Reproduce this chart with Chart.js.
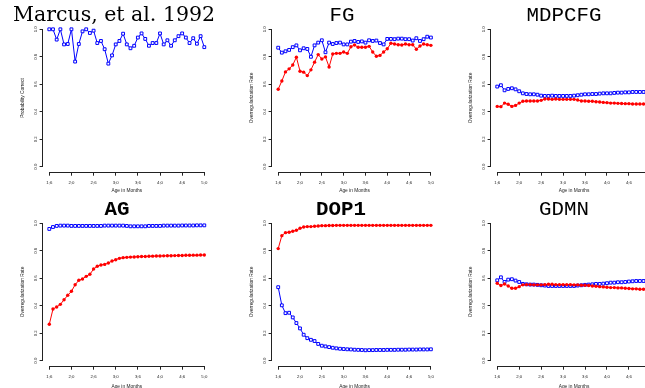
<!DOCTYPE html>
<html>
<head>
<meta charset="utf-8">
<script src="https://cdn.jsdelivr.net/npm/chart.js@4.4.1/dist/chart.umd.min.js"></script>
<style>
  html, body { margin: 0; padding: 0; background: #fff; overflow: hidden; }
  body { width: 645px; height: 388px; position: relative; }
  canvas { position: absolute; }
</style>
</head>
<body>
<canvas id="marcus"></canvas>
<canvas id="fg"></canvas>
<canvas id="mdpcfg"></canvas>
<canvas id="ag"></canvas>
<canvas id="dop1"></canvas>
<canvas id="gdmn"></canvas>
<script>
// ages in months, 1;6 .. 5;0
const ages = [18, 19, 20, 21, 22, 23, 24, 25, 26, 27, 28, 29, 30, 31, 32, 33, 34, 35, 36, 37, 38,
  39, 40, 41, 42, 43, 44, 45, 46, 47, 48, 49, 50, 51, 52, 53, 54, 55, 56, 57, 58, 59, 60]
const xTickValues = [18, 24, 30, 36, 42, 48, 54, 60]
const xTickLabels = ['1;6', '2;0', '2;6', '3;0', '3;6', '4;0', '4;6', '5;0']
const yTickValues = [0, 0.2, 0.4, 0.6, 0.8, 1.0]
const yTickLabels = ['0.0', '0.2', '0.4', '0.6', '0.8', '1.0']

const marcusCorrect = [1.0, 1.0, 0.925, 1.0, 0.89, 0.893, 1.0, 0.765, 0.893, 0.985, 1.0, 0.973, 0.99, 0.90,
  0.915, 0.855, 0.75, 0.81, 0.89, 0.915, 0.968, 0.89, 0.862, 0.88, 0.94, 0.97, 0.93, 0.88, 0.90, 0.90,
  0.97, 0.89, 0.92, 0.88, 0.92, 0.95, 0.97, 0.94, 0.90, 0.935, 0.895, 0.95, 0.87]

const fgBlue = [0.866, 0.83, 0.84, 0.85, 0.87, 0.883, 0.847, 0.862, 0.857, 0.80, 0.883, 0.903, 0.92, 0.833,
  0.903, 0.893, 0.90, 0.903, 0.89, 0.89, 0.91, 0.915, 0.908, 0.912, 0.903, 0.92, 0.915, 0.918, 0.90, 0.89,
  0.93, 0.93, 0.928, 0.932, 0.932, 0.928, 0.928, 0.918, 0.935, 0.915, 0.928, 0.946, 0.94]
const fgRed = [0.564, 0.624, 0.69, 0.712, 0.74, 0.797, 0.695, 0.688, 0.663, 0.705, 0.761, 0.816, 0.784, 0.799,
  0.726, 0.82, 0.825, 0.825, 0.835, 0.825, 0.873, 0.886, 0.869, 0.869, 0.869, 0.876, 0.835, 0.804, 0.81, 0.835,
  0.858, 0.898, 0.893, 0.888, 0.886, 0.893, 0.888, 0.888, 0.855, 0.878, 0.893, 0.888, 0.883]

const mdpBlue = [0.583, 0.593, 0.556, 0.566, 0.571, 0.563, 0.549, 0.534, 0.529, 0.527, 0.527, 0.524, 0.517, 0.515,
  0.515, 0.517, 0.515, 0.515, 0.515, 0.515, 0.515, 0.517, 0.52, 0.524, 0.527, 0.527, 0.529, 0.529, 0.532, 0.534,
  0.534, 0.534, 0.537, 0.539, 0.539, 0.541, 0.541, 0.544, 0.544, 0.544, 0.544, 0.544, 0.544]
const mdpRed = [0.439, 0.437, 0.463, 0.454, 0.439, 0.446, 0.463, 0.476, 0.478, 0.478, 0.478, 0.478, 0.483, 0.493,
  0.493, 0.49, 0.493, 0.49, 0.49, 0.49, 0.49, 0.49, 0.485, 0.478, 0.478, 0.476, 0.476, 0.473, 0.471, 0.468,
  0.466, 0.463, 0.463, 0.461, 0.46, 0.459, 0.459, 0.456, 0.456, 0.456, 0.456, 0.456, 0.456]

const agBlue = [0.959, 0.973, 0.981, 0.983, 0.983, 0.983, 0.981, 0.981, 0.981, 0.981, 0.981, 0.981, 0.981, 0.981,
  0.981, 0.983, 0.983, 0.983, 0.983, 0.983, 0.983, 0.981, 0.978, 0.978, 0.978, 0.978, 0.978, 0.981, 0.981, 0.981,
  0.981, 0.983, 0.983, 0.983, 0.983, 0.983, 0.984, 0.984, 0.984, 0.984, 0.985, 0.985, 0.985]
const agRed = [0.265, 0.376, 0.391, 0.41, 0.444, 0.476, 0.505, 0.553, 0.585, 0.595, 0.614, 0.629, 0.667, 0.687,
  0.697, 0.701, 0.711, 0.726, 0.735, 0.745, 0.750, 0.752, 0.754, 0.755, 0.757, 0.758, 0.758, 0.760, 0.761, 0.762,
  0.762, 0.763, 0.764, 0.764, 0.765, 0.766, 0.766, 0.767, 0.767, 0.768, 0.768, 0.769, 0.769]

const dopBlue = [0.535, 0.403, 0.346, 0.349, 0.315, 0.274, 0.235, 0.189, 0.164, 0.152, 0.143, 0.122, 0.109, 0.104,
  0.099, 0.094, 0.09, 0.087, 0.085, 0.083, 0.082, 0.08, 0.079, 0.078, 0.076, 0.077, 0.077, 0.078, 0.078, 0.078,
  0.079, 0.079, 0.079, 0.08, 0.08, 0.08, 0.081, 0.081, 0.081, 0.082, 0.082, 0.082, 0.083]
const dopRed = [0.816, 0.91, 0.932, 0.935, 0.942, 0.949, 0.964, 0.973, 0.976, 0.976, 0.978, 0.98, 0.983, 0.983,
  0.984, 0.984, 0.985, 0.985, 0.985, 0.985, 0.985, 0.985, 0.985, 0.985, 0.985, 0.985, 0.985, 0.985, 0.985, 0.985,
  0.985, 0.985, 0.985, 0.985, 0.985, 0.985, 0.985, 0.985, 0.985, 0.985, 0.985, 0.985, 0.985]

const gdBlue = [0.585, 0.607, 0.573, 0.59, 0.593, 0.583, 0.573, 0.559, 0.556, 0.554, 0.554, 0.552, 0.549, 0.547,
  0.544, 0.544, 0.544, 0.544, 0.544, 0.544, 0.544, 0.544, 0.547, 0.549, 0.552, 0.554, 0.556, 0.559, 0.559, 0.561,
  0.564, 0.568, 0.568, 0.571, 0.571, 0.573, 0.576, 0.578, 0.58, 0.58, 0.58, 0.58, 0.58]
const gdRed = [0.564, 0.547, 0.558, 0.544, 0.527, 0.527, 0.539, 0.552, 0.554, 0.554, 0.552, 0.552, 0.552, 0.554,
  0.556, 0.556, 0.554, 0.554, 0.554, 0.554, 0.554, 0.552, 0.552, 0.549, 0.549, 0.547, 0.544, 0.542, 0.539, 0.537,
  0.535, 0.532, 0.532, 0.53, 0.53, 0.527, 0.525, 0.523, 0.523, 0.52, 0.52, 0.52, 0.52]

const BLUE = '#0000ff'
const RED = '#ff0000'
const INK = '#222'
const PLOT_W = 167.4
const PLOT_H = 148.4
const SANS = '"Liberation Sans", Arial, sans-serif'

const pts = vals => ages.map((a, i) => ({ x: a, y: vals[i] }))

const blueSet = vals => ({
  data: pts(vals),
  borderColor: BLUE,
  borderWidth: 1,
  pointStyle: 'rect',
  pointRadius: 2.0,
  pointBorderWidth: 1,
  pointBorderColor: BLUE,
  pointBackgroundColor: '#fff',
  tension: 0
})
const redSet = vals => ({
  data: pts(vals),
  borderColor: RED,
  borderWidth: 1,
  pointStyle: 'circle',
  pointRadius: 1.7,
  pointBorderWidth: 0,
  pointBackgroundColor: RED,
  tension: 0
})

function panel(id, box, plotLeft, plotTop, title, titleX, yLabel, datasets) {
  const cv = document.getElementById(id)
  cv.width = box.w
  cv.height = box.h
  cv.style.left = box.left + 'px'
  cv.style.top = box.top + 'px'
  cv.style.width = box.w + 'px'
  cv.style.height = box.h + 'px'

  const yTitleSize = 4.8
  const yW = plotLeft - box.left
  const xH = box.h - (plotTop - box.top) - PLOT_H

  // R-style axes: line only from first to last tick
  const rAxes = {
    id: 'rAxes',
    afterDraw(chart) {
      const { ctx, chartArea, scales: { x, y } } = chart
      ctx.save()
      ctx.strokeStyle = INK
      ctx.lineWidth = 1
      ctx.beginPath()
      const ax = Math.round(chartArea.left) - 0.5
      ctx.moveTo(ax, y.getPixelForValue(yTickValues[0]))
      ctx.lineTo(ax, y.getPixelForValue(yTickValues[yTickValues.length - 1]))
      const ay = Math.round(chartArea.bottom) + 0.5
      ctx.moveTo(x.getPixelForValue(xTickValues[0]), ay)
      ctx.lineTo(x.getPixelForValue(xTickValues[xTickValues.length - 1]), ay)
      ctx.stroke()
      ctx.restore()
    }
  }
  const titlePlug = {
    id: 'panelTitle',
    afterDraw(chart) {
      const ctx = chart.ctx
      ctx.save()
      ctx.font = title.font
      ctx.fillStyle = '#000'
      ctx.textAlign = 'center'
      ctx.textBaseline = 'alphabetic'
      ctx.fillText(title.text, titleX - box.left, title.baseline)
      ctx.restore()
    }
  }

  return new Chart(cv, {
    type: 'line',
    data: { datasets },
    plugins: [rAxes, titlePlug],
    options: {
      responsive: false,
      animation: false,
      events: [],
      layout: {
        padding: { left: 0, top: plotTop - box.top, right: box.left + box.w - (plotLeft + PLOT_W), bottom: 0 }
      },
      plugins: { legend: { display: false }, tooltip: { enabled: false }, title: { display: false } },
      scales: {
        x: {
          type: 'linear',
          min: 16.32,
          max: 61.68,
          afterBuildTicks: s => { s.ticks = xTickValues.map(v => ({ value: v })) },
          afterFit: s => { s.height = xH },
          grid: { display: true, drawOnChartArea: false, drawTicks: true, tickLength: 3.5, color: INK, lineWidth: 1 },
          border: { display: false },
          ticks: {
            autoSkip: false, maxRotation: 0, minRotation: 0, padding: 4.3, color: INK,
            font: { family: SANS, size: 4.3 },
            callback: (v, i) => xTickLabels[i]
          },
          title: {
            display: true, text: 'Age in Months', color: INK,
            font: { family: SANS, size: yTitleSize },
            padding: { top: 0, bottom: 0 }
          }
        },
        y: {
          type: 'linear',
          min: -0.04,
          max: 1.04,
          afterBuildTicks: s => { s.ticks = yTickValues.map(v => ({ value: v })) },
          afterFit: s => { s.width = yW },
          grid: { display: true, drawOnChartArea: false, drawTicks: true, tickLength: 3.5, color: INK, lineWidth: 1 },
          border: { display: false },
          ticks: {
            autoSkip: false, minRotation: 90, maxRotation: 90, crossAlign: 'center', padding: 1, color: INK,
            font: { family: SANS, size: 4.3 },
            callback: (v, i) => yTickLabels[i]
          },
          title: {
            display: true, text: yLabel, color: INK,
            font: { family: SANS, size: yTitleSize },
            padding: { top: yW - 20 - yTitleSize * 0.6, bottom: 0 }
          }
        }
      }
    }
  })
}

const SERIF_T = '20.5px "DejaVu Serif", serif'
const MONO_T = '20.8px "Liberation Mono", monospace'
const MONO_B = 'bold 20.8px "Liberation Mono", monospace'
const rowTop = { top: 0, h: 194, plot: 23.8, base: 21 }
const rowBot = { top: 194, h: 196, plot: 217.8, base: 20.7 }
const cols = [
  { left: 0, w: 226, plot: 43.1, tx: 114 },
  { left: 228, w: 214, plot: 272.1, tx: 342 },
  { left: 447, w: 215, plot: 491.1, tx: 564 }
]
const box = (c, r) => ({ left: c.left, w: c.w, top: r.top, h: r.h })

panel('marcus', box(cols[0], rowTop), cols[0].plot, rowTop.plot,
  { text: 'Marcus, et al. 1992', font: SERIF_T, baseline: rowTop.base }, cols[0].tx,
  'Probability Correct', [blueSet(marcusCorrect)])
panel('fg', box(cols[1], rowTop), cols[1].plot, rowTop.plot,
  { text: 'FG', font: MONO_T, baseline: rowTop.base }, cols[1].tx,
  'Overregularization Rate', [redSet(fgRed), blueSet(fgBlue)])
panel('mdpcfg', box(cols[2], rowTop), cols[2].plot, rowTop.plot,
  { text: 'MDPCFG', font: MONO_T, baseline: rowTop.base }, cols[2].tx,
  'Overregularization Rate', [redSet(mdpRed), blueSet(mdpBlue)])
panel('ag', box(cols[0], rowBot), cols[0].plot, rowBot.plot,
  { text: 'AG', font: MONO_B, baseline: rowBot.base }, 117,
  'Overregularization Rate', [redSet(agRed), blueSet(agBlue)])
panel('dop1', box(cols[1], rowBot), cols[1].plot, rowBot.plot,
  { text: 'DOP1', font: MONO_B, baseline: rowBot.base }, 341,
  'Overregularization Rate', [redSet(dopRed), blueSet(dopBlue)])
panel('gdmn', box(cols[2], rowBot), cols[2].plot, rowBot.plot,
  { text: 'GDMN', font: MONO_T, baseline: rowBot.base }, cols[2].tx,
  'Overregularization Rate', [redSet(gdRed), blueSet(gdBlue)])
</script>
</body>
</html>
